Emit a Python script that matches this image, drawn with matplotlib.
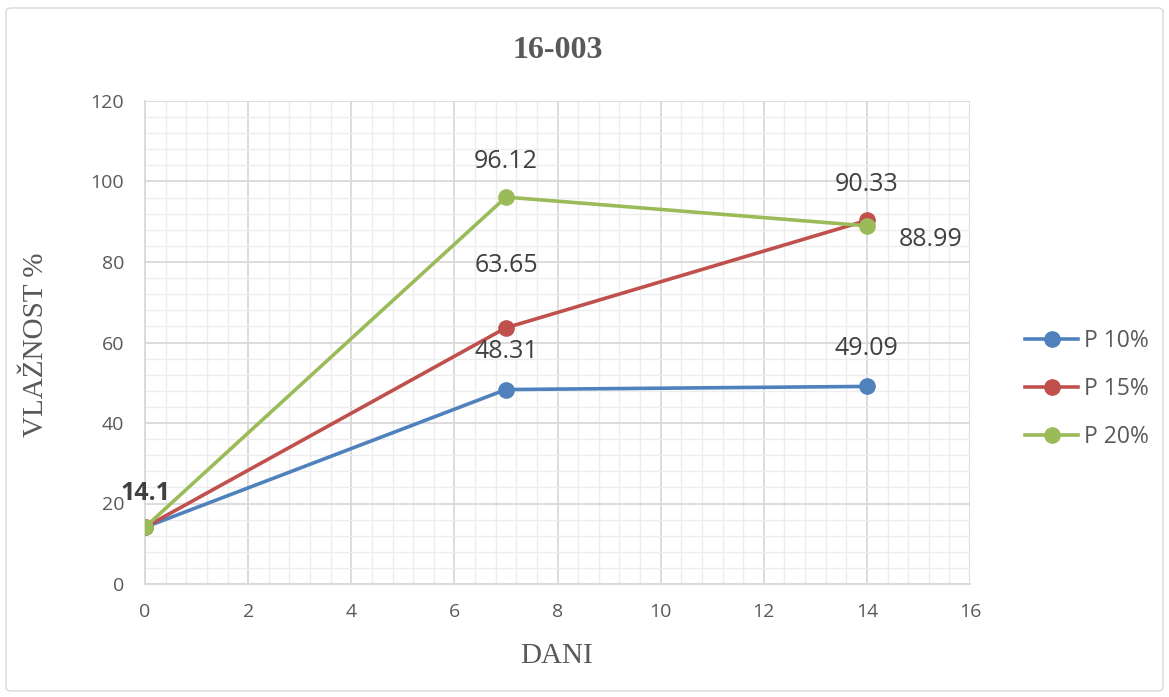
import matplotlib
matplotlib.use("Agg")
import matplotlib.pyplot as plt
from matplotlib.ticker import MultipleLocator
from matplotlib.patches import FancyBboxPatch

days = [0, 7, 14]
series_names = ["P 10%", "P 15%", "P 20%"]
p10 = [14.1, 48.31, 49.09]
p15 = [14.1, 63.65, 90.33]
p20 = [14.1, 96.12, 88.99]
colors = ["#4F81BD", "#C0504D", "#9BBB59"]

W, H = 1169, 697
fig = plt.figure(figsize=(W / 100, H / 100), dpi=100)
ax = fig.add_axes([145 / W, 1 - 584 / H, 825 / W, 483 / H])

fig.patches.append(FancyBboxPatch((6 / W, 6 / H), 1 - 12 / W, 1 - 14 / H,
                                  boxstyle="round,pad=0,rounding_size=0.005",
                                  transform=fig.transFigure, fill=False,
                                  edgecolor="#D9D9D9", linewidth=1.0))

txt = "#595959"
for vals, c, name in zip([p10, p15, p20], colors, series_names):
    ax.plot(days, vals, color=c, linewidth=2.6, marker="o", markersize=11,
            label=name, zorder=3)

ax.set_xlim(0, 16)
ax.set_ylim(0, 120)
ax.xaxis.set_major_locator(MultipleLocator(2))
ax.xaxis.set_minor_locator(MultipleLocator(0.4))
ax.yaxis.set_major_locator(MultipleLocator(20))
ax.yaxis.set_minor_locator(MultipleLocator(4))
ax.grid(which="major", color="#D9D9D9", linewidth=1.3)
ax.grid(which="minor", color="#EDEDED", linewidth=1.0)
ax.set_axisbelow(True)
for s in ["top", "right"]:
    ax.spines[s].set_visible(False)
for s in ["left", "bottom"]:
    ax.spines[s].set_color("#D9D9D9")
    ax.spines[s].set_linewidth(1.3)
ax.tick_params(which="both", length=0, labelsize=14, labelcolor=txt)
ax.tick_params(axis="y", pad=15)
ax.tick_params(axis="x", pad=14)
for lab in ax.get_xticklabels() + ax.get_yticklabels():
    lab.set_family("Open Sans")

fig.text(0.5 * (145 + 970) / W, 1 - 51 / H, "16-003", fontsize=23, fontweight="bold",
         family="Liberation Serif", color=txt, ha="center", va="center")
fig.text(557 / W, 1 - 656 / H, "DANI", fontsize=21, family="Liberation Serif",
         color=txt, ha="center", va="center")
fig.text(36 / W, 1 - 345 / H, "VLAŽNOST %", fontsize=21, family="Liberation Serif",
         color=txt, ha="center", va="center", rotation=90)

lab_kw = dict(fontsize=18, color="#404040", family="Open Sans",
              textcoords="offset pixels", ha="center", va="center", zorder=6)
ax.annotate(f"{p10[1]:g}", (days[1], p10[1]), xytext=(0, 38), **lab_kw)
ax.annotate(f"{p10[2]:g}", (days[2], p10[2]), xytext=(0, 38), **lab_kw)
ax.annotate(f"{p15[1]:g}", (days[1], p15[1]), xytext=(0, 62), **lab_kw)
ax.annotate(f"{p15[2]:g}", (days[2], p15[2]), xytext=(0, 36), **lab_kw)
ax.annotate(f"{p20[1]:g}", (days[1], p20[1]), xytext=(0, 36), **lab_kw)
ax.annotate(f"{p20[2]:g}", (days[2], p20[2]), xytext=(64, -14), **lab_kw)
ax.annotate(f"{p20[0]:g}", (days[0], p20[0]), xytext=(1, 34), fontweight="bold",
            annotation_clip=False, **lab_kw)

leg = fig.legend(loc="center left", bbox_to_anchor=(1016 / W, 1 - 389 / H), frameon=False,
                 handlelength=2.3, labelspacing=1.05, handletextpad=0.25, borderaxespad=0,
                 prop={"family": "Open Sans", "size": 16.5})
for t in leg.get_texts():
    t.set_color(txt)

fig.savefig("out.png", dpi=100)
